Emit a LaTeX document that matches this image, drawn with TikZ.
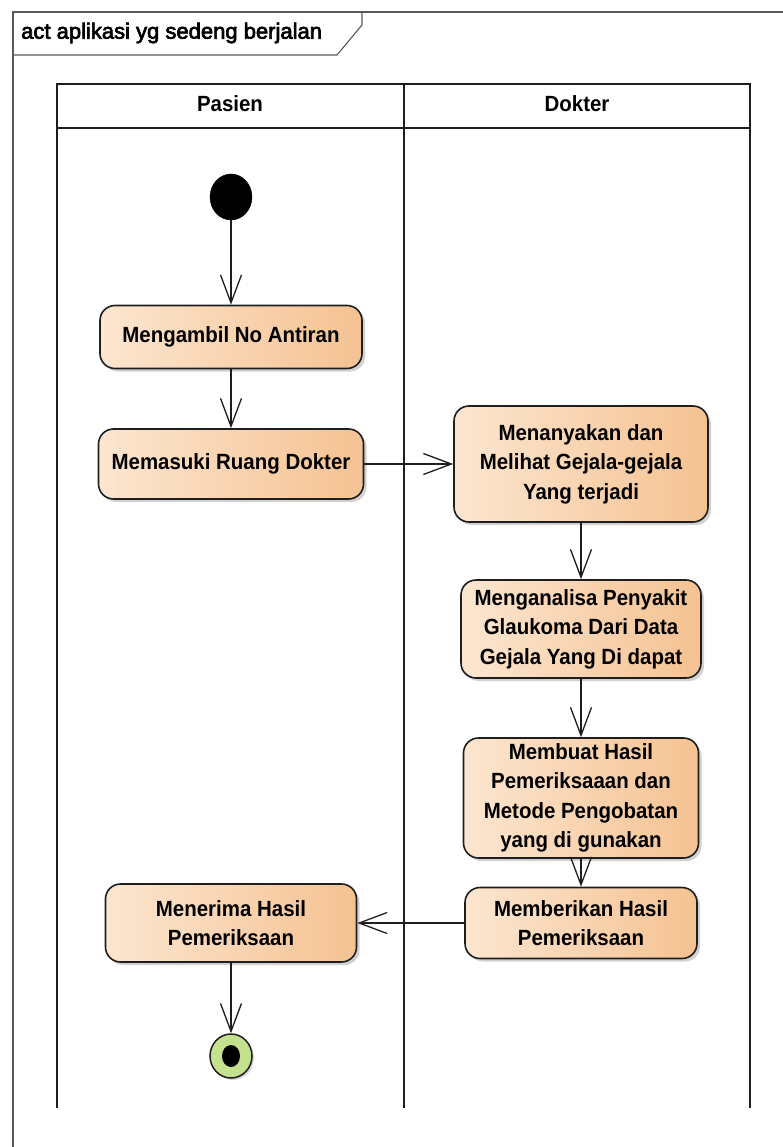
\documentclass[tikz,border=0pt]{standalone}
\usepackage{fontspec}
\setmainfont{Liberation Sans}
\newfontfamily\heavyfont[FakeStretch=0.93]{Liberation Sans Bold}
\newfontfamily\semifont[FakeBold=3]{Liberation Sans}
\usetikzlibrary{arrows.meta,shadows,shapes.geometric}
\definecolor{peachL}{RGB}{252,230,208}
\definecolor{peachR}{RGB}{245,194,146}
\definecolor{greenF}{RGB}{196,225,143}
\definecolor{lineC}{RGB}{30,30,30}
\tikzset{
  act/.style={draw=lineC, line width=1.6pt, rounded corners=15pt,
    left color=peachL, right color=peachR,
    drop shadow={shadow xshift=3pt,shadow yshift=-3pt,fill=black!40,opacity=0.45},
    font=\heavyfont\fontsize{22}{29.5}\selectfont, align=center, inner sep=0pt},
  flow/.style={line width=1.3pt, draw=lineC,
    -{Straight Barb[length=28pt,width=21pt,line width=1.3pt]}},
  lane/.style={line width=1.9pt, draw=lineC},
  frameln/.style={line width=1.1pt, draw=black!65},
  lanehead/.style={font=\heavyfont\fontsize{22}{24}\selectfont, inner sep=0pt},
}
\begin{document}
\begin{tikzpicture}[x=1pt,y=-1pt]
\useasboundingbox (0,0) rectangle (783,1147);
% outer frame
\draw[frameln] (13,1147) -- (13,12) -- (783,12);
\draw[frameln] (13,55) -- (337,55) -- (362,25) -- (362,12);
\node[anchor=west, inner sep=0pt, font=\semifont\fontsize{22}{24}\selectfont] (title) at (21,33) {act aplikasi yg sedeng berjalan};
% swimlanes
\draw[lane] (57,1108) -- (57,84) -- (750,84) -- (750,1108);
\draw[lane] (404,84) -- (404,1108);
\draw[lane] (57,128) -- (750,128);
\node[lanehead] (lp) at (230,104) {Pasien};
\node[lanehead] (ld) at (577,104) {Dokter};
% nodes
\node[ellipse, fill=black, draw=black, inner sep=0pt, minimum width=42pt, minimum height=46pt] (init) at (231,197) {};
\node[act, minimum width=262pt, minimum height=63pt] (n1) at (231,337) {Mengambil No Antiran};
\node[act, minimum width=265pt, minimum height=70pt] (n2) at (231,464) {Memasuki Ruang Dokter};
\node[act, minimum width=254pt, minimum height=116pt] (n3) at (581,464) {Menanyakan dan\\Melihat Gejala-gejala\\Yang terjadi};
\node[act, minimum width=240pt, minimum height=98pt] (n4) at (581,629) {Menganalisa Penyakit\\Glaukoma Dari Data\\Gejala Yang Di dapat};
\node[act, minimum width=235pt, minimum height=120pt] (n5) at (581,798) {Membuat Hasil\\Pemeriksaaan dan\\Metode Pengobatan\\yang di gunakan};
\node[act, minimum width=232pt, minimum height=71pt] (n6) at (581,923) {Memberikan Hasil\\Pemeriksaan};
\node[act, minimum width=251pt, minimum height=78pt] (n7) at (231,923) {Menerima Hasil\\Pemeriksaan};
\node[ellipse, draw=lineC, line width=1.5pt, fill=greenF, inner sep=0pt, minimum width=42pt, minimum height=44pt,
  drop shadow={shadow xshift=2pt,shadow yshift=-2pt,fill=black!40,opacity=0.4}] (fin) at (231,1056) {};
\node[ellipse, fill=black, inner sep=0pt, minimum width=18pt, minimum height=22pt] (finc) at (231,1056) {};
% flows
\draw[flow] (init) -- (n1);
\draw[flow] (n1) -- (n2);
\draw[flow] (n2) -- (n3);
\draw[flow] (n3) -- (n4);
\draw[flow] (n4) -- (n5);
\draw[flow] (n5) -- (n6);
\draw[flow] (n6) -- (n7);
\draw[flow] (n7) -- (fin);
\end{tikzpicture}
\end{document}
